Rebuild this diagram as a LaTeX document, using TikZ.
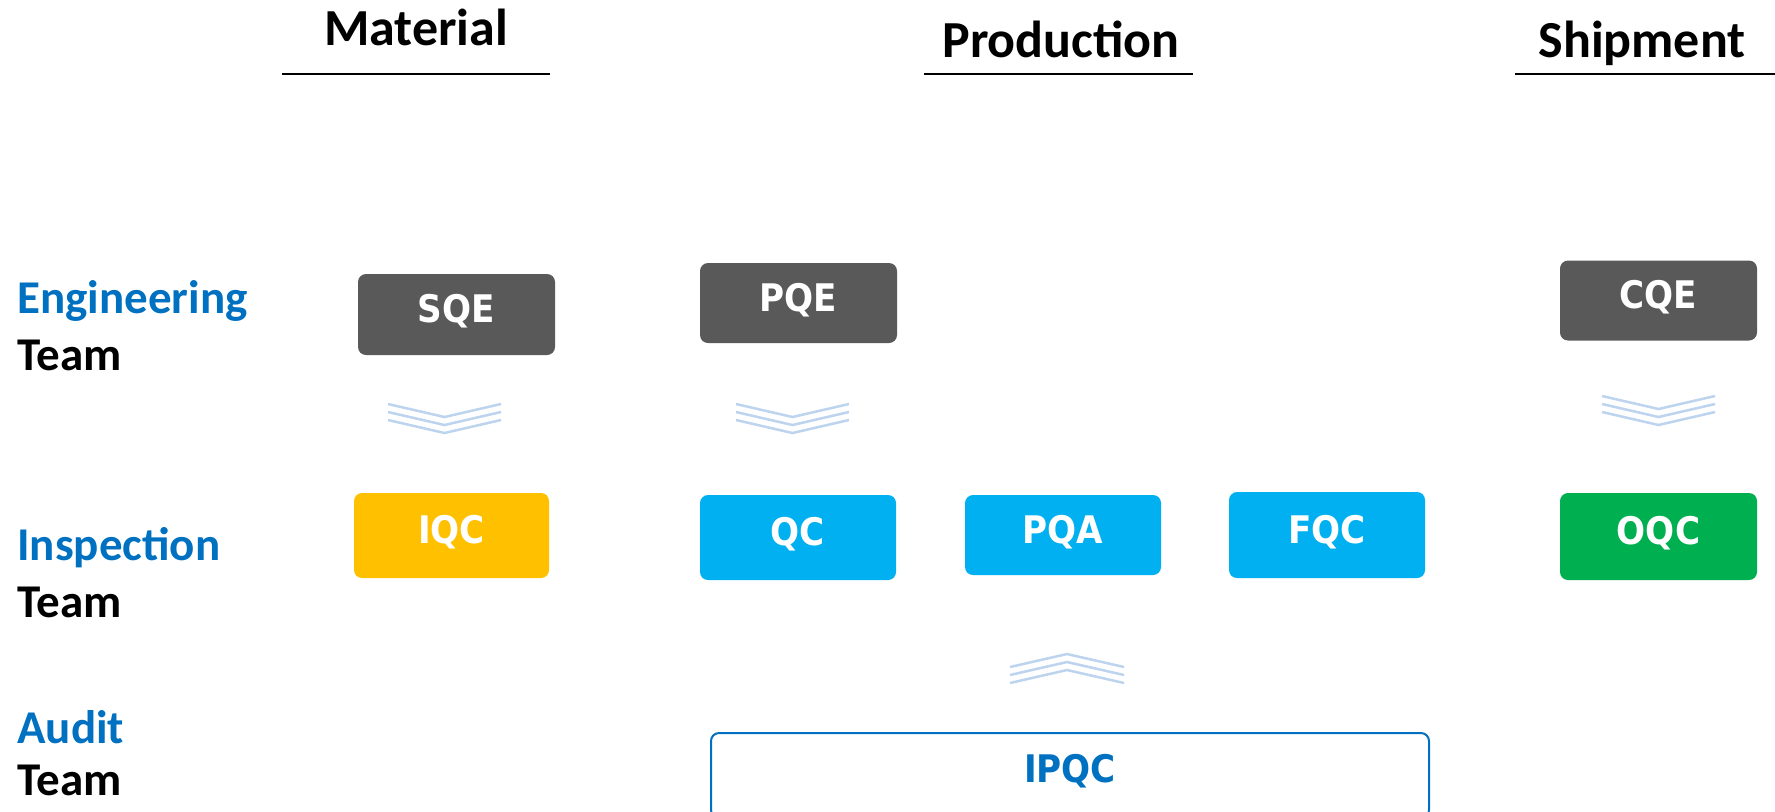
\documentclass[tikz,border=0pt]{standalone}
\usepackage{fontspec}
\setmainfont{Carlito}
\newfontfamily\boxfont{DejaVu Sans}[FakeStretch=0.9]
\definecolor{lblblue}{RGB}{0,112,192}
\definecolor{darkbox}{RGB}{89,89,89}
\definecolor{yelbox}{RGB}{255,192,0}
\definecolor{cyanbox}{RGB}{0,176,240}
\definecolor{greenbox}{RGB}{0,176,80}
\definecolor{chevblue}{RGB}{189,212,238}
\tikzset{
  hdr/.style={inner sep=0pt, anchor=base, font=\bfseries\fontsize{26}{30}\selectfont},
  lbl/.style={inner sep=0pt, anchor=base west, font=\bfseries\fontsize{23.5}{28}\selectfont},
  uline/.style={line width=1.4pt, black},
  box/.style={rounded corners=4pt, inner sep=0pt, text=white, text height=14pt, text depth=6pt,
    font=\boxfont\bfseries\fontsize{19}{21}\selectfont},
  chev/.style={chevblue, line width=1.25pt},
  downchev/.pic={\foreach \k in {0,8,16} \draw[chev] (-56.5,\k) -- (0,13+\k) -- (56.5,\k);},
  upchev/.pic={\foreach \k in {0,8,16} \draw[chev] (-57,13+\k) -- (0,\k) -- (57,13+\k);}
}
\begin{document}
\begin{tikzpicture}[x=0.5pt,y=-0.5pt]
\useasboundingbox (0,0) rectangle (1775,811);
% headers
\node[hdr] (mat) at (416,45) {Material};
\node[hdr] (prod) at (1061,57) {Production};
\node[hdr] (ship) at (1642,57) {Shipment};
\draw[uline] (282,74) -- (550,74);
\draw[uline] (924,74) -- (1193,74);
\draw[uline] (1515,74) -- (1775,74);
% left labels
\node[lbl, text=lblblue] (eng) at (17,313) {Engineering};
\node[lbl] (engt) at (17,370) {Team};
\node[lbl, text=lblblue] (insp) at (17,560) {Inspection};
\node[lbl] (inspt) at (17,617) {Team};
\node[lbl, text=lblblue] (aud) at (17,743) {Audit};
\node[lbl] (audt) at (17,795) {Team};
% engineering boxes
\node[box, fill=darkbox, minimum width=98.5pt, minimum height=40.5pt] (sqe) at (456.5,314.5) {SQE};
\node[box, fill=darkbox, minimum width=98.5pt, minimum height=40pt] (pqe) at (798.5,303) {PQE};
\node[box, fill=darkbox, minimum width=98.5pt, minimum height=40pt] (cqe) at (1658.5,300.5) {CQE};
% inspection boxes
\node[box, fill=yelbox, minimum width=97.5pt, minimum height=42.5pt] (iqc) at (451.5,535.5) {IQC};
\node[box, fill=cyanbox, minimum width=98pt, minimum height=42.5pt] (qc) at (798,537.5) {QC};
\node[box, fill=cyanbox, minimum width=98pt, minimum height=40pt] (pqa) at (1063,535) {PQA};
\node[box, fill=cyanbox, minimum width=98pt, minimum height=43pt] (fqc) at (1327,535) {FQC};
\node[box, fill=greenbox, minimum width=98.5pt, minimum height=43.5pt] (oqc) at (1658.5,536.5) {OQC};
% audit box
\node[box, draw=lblblue, line width=1pt, text=lblblue, text depth=7pt, minimum width=359pt, minimum height=42.5pt] (ipqc) at (1070,775.5) {IPQC};
% chevrons
\coordinate (c1) at (444.5,404);
\coordinate (c2) at (792.5,404);
\coordinate (c3) at (1658.5,396);
\coordinate (c4) at (1067,654);
\pic at (c1) {downchev};
\pic at (c2) {downchev};
\pic at (c3) {downchev};
\pic at (c4) {upchev};
\end{tikzpicture}
\end{document}
